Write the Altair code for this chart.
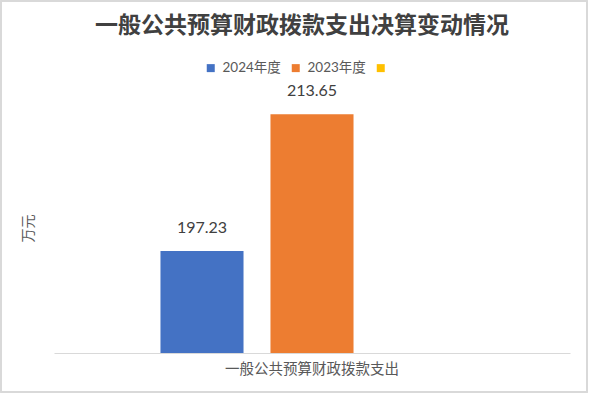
import altair as alt
import pandas as pd

category = "一般公共预算财政拨款支出"
series = ["2024年度", "2023年度", " "]
values = [197.23, 213.65, None]
colors = ["#4472C4", "#ED7D31", "#FFC000"]

df = pd.DataFrame({
    "cat": [category] * 3,
    "series": series,
    "value": values,
})

FONT = "Lato, Noto Sans CJK SC"

x = alt.X("cat:N", title=None,
          scale=alt.Scale(paddingInner=0, paddingOuter=0.2818),
          axis=alt.Axis(labelAngle=0, ticks=False, domainColor="#d9d9d9",
                        labelColor="#595959", labelFontSize=14.5, labelFont=FONT,
                        labelPadding=9))
xo = alt.XOffset("series:N", sort=series,
                 scale=alt.Scale(domain=series, paddingInner=0.245, paddingOuter=0.1225))
y = alt.Y("value:Q", title="万元",
          scale=alt.Scale(domain=[185, 215], zero=False, nice=False),
          axis=alt.Axis(labels=False, ticks=False, domain=False, grid=False,
                        titleColor="#595959", titleFontSize=14, titleFont=FONT,
                        titleFontWeight="normal", titlePadding=19))

base = alt.Chart(df)

bars = base.mark_bar(clip=True).encode(
    x=x, xOffset=xo, y=y,
    color=alt.Color("series:N", sort=series,
                    scale=alt.Scale(domain=series, range=colors),
                    legend=alt.Legend(title=None, orient="none", direction="horizontal",
                                      legendX=150, legendY=-42,
                                      symbolType="square", symbolSize=64,
                                      symbolStrokeWidth=0,
                                      labelFontSize=13.5, labelColor="#595959",
                                      labelFont=FONT, columnPadding=8,
                                      labelOffset=5)),
)

labels = base.mark_text(baseline="bottom", dy=-15, fontSize=16, color="#404040",
                        font=FONT).encode(
    x=x, xOffset=xo, y=y,
    text=alt.Text("value:Q", format=".2f"),
)

border = alt.Chart(df).mark_rect(fill="transparent", stroke="#d9d9d9", strokeWidth=1.5).encode(
    x=alt.value(-53), x2=alt.value(533), y=alt.value(-102), y2=alt.value(289)
)

chart = alt.layer(border, bars, labels).properties(
    width=516, height=250,
    autosize=alt.AutoSizeParams(type="none"),
    padding={"left": 54, "top": 103, "right": 19, "bottom": 41},
    title=alt.Title("一般公共预算财政拨款支出决算变动情况",
                    fontSize=23, font="Noto Sans CJK SC", fontWeight="bold",
                    color="#404040", anchor="middle", dx=-10, offset=-38),
).configure_view(strokeWidth=0)

chart.save("out.html", embed_options={"renderer": "svg", "actions": False})
